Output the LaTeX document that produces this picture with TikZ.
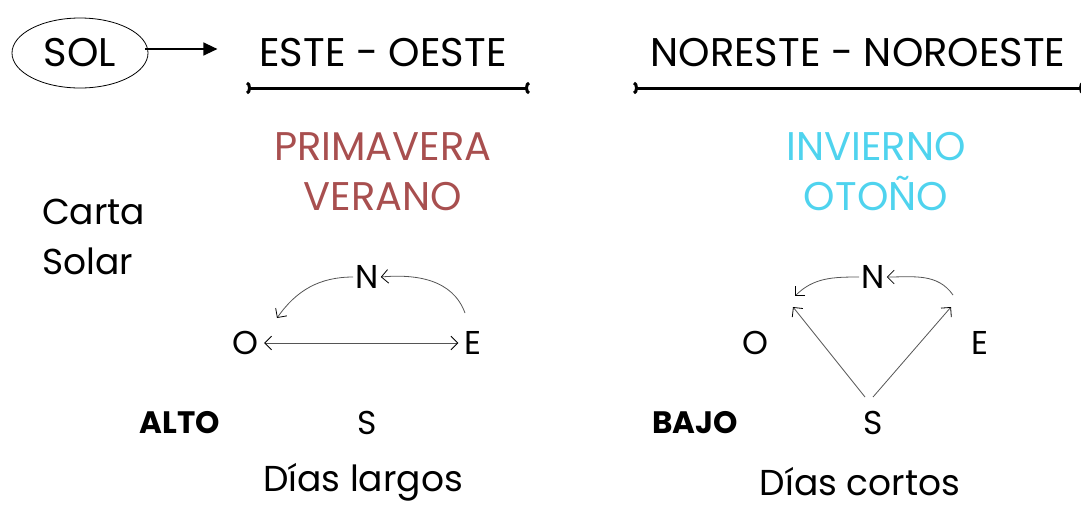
\documentclass[tikz,border=0pt]{standalone}
\usepackage{fontspec}
\setmainfont{Poppins}
\usetikzlibrary{arrows.meta,shapes.geometric}
\definecolor{prim}{HTML}{A84F4F}
\definecolor{inv}{HTML}{4FD3EE}
\definecolor{arr}{HTML}{555555}
\begin{document}
\begin{tikzpicture}[x=1pt,y=-1pt,
  big/.style={font=\fontsize{40}{48}\selectfont, inner sep=0pt},
  season/.style={font=\fontsize{40}{50}\selectfont, inner sep=0pt, align=center},
  card/.style={font=\fontsize{33}{40}\selectfont, inner sep=2pt},
  lvl/.style={font=\fontsize{31}{38}\selectfont\bfseries, inner sep=0pt},
  thinarr/.style={draw=arr, line width=0.8pt, >={Straight Barb[scale=2.2,black]}, ->},
  bar/.style={line width=3pt, {Arc Barb[reversed,length=4pt,width=13pt]}-{Arc Barb[reversed,length=4pt,width=13pt]}}
]
\useasboundingbox (0,0) rectangle (1081,507);
% top row
\node[ellipse, draw, minimum width=136pt, minimum height=70pt, inner sep=0pt, line width=0.8pt] (sol) at (80,53) {};
\node[big] (soltxt) at (80,53) {SOL};
\node[big] (eo) at (383,53) {ESTE - OESTE};
\draw[line width=1.3pt, -{Triangle[length=14pt,width=13pt]}] (sol.east) ++(-3pt,4pt) coordinate (a0) -- ++(72pt,0) coordinate (a1);
\node[big] (nn) at (858,53) {NORESTE - NOROESTE};
\coordinate (b1l) at (247,88); \coordinate (b1r) at (529,88);
\coordinate (b2l) at (634,88); \coordinate (b2r) at (1083,88);
\draw[bar] (b1l) -- (b1r);
\draw[bar] (b2l) -- (b2r);
% seasons
\node[season, text=prim] (pv) at (383,172) {PRIMAVERA\\VERANO};
\node[season, text=inv] (io) at (876,172) {INVIERNO\\OTOÑO};
\node[font=\fontsize{36}{50}\selectfont, align=left, inner sep=0pt, anchor=west] (cs) at (42,237) {Carta\\Solar};
% left compass
\node[card] (N1) at (367,277) {N};
\node[card] (O1) at (245,343) {O};
\node[card] (E1) at (473,343) {E};
\node[card] (S1) at (367,423) {S};
\node[lvl] (alto) at (180,423) {ALTO};
\node[font=\fontsize{36}{44}\selectfont, inner sep=0pt] (dl) at (363,482) {Días largos};
\coordinate (e1s) at (465,313);
\coordinate (o1e) at (277,318);
\draw[thinarr] (e1s) to[out=110,in=5] (N1.east);
\draw[thinarr] (N1.west) to[out=180,in=55] (o1e);
\draw[thinarr, <->, shorten <=4pt, shorten >=4pt] (O1.east) -- (E1.west);
% right compass
\node[card] (N2) at (873,277) {N};
\node[card] (O2) at (755,343) {O};
\node[card] (E2) at (980,343) {E};
\node[card] (S2) at (873,423) {S};
\node[lvl] (bajo) at (695,423) {BAJO};
\node[font=\fontsize{36}{44}\selectfont, inner sep=0pt] (dc) at (860,482) {Días cortos};
\coordinate (e2s) at (953,295);
\coordinate (o2e) at (795,296);
\coordinate (ot) at (793,307);
\coordinate (et) at (951,307);
\coordinate (s2a) at (865,397);
\coordinate (s2b) at (873,397);
\draw[thinarr] (e2s) to[out=125,in=0] (N2.east);
\draw[thinarr] (N2.west) to[out=180,in=45] (o2e);
\draw[thinarr] (s2a) -- (ot);
\draw[thinarr] (s2b) -- (et);
\end{tikzpicture}
\end{document}
